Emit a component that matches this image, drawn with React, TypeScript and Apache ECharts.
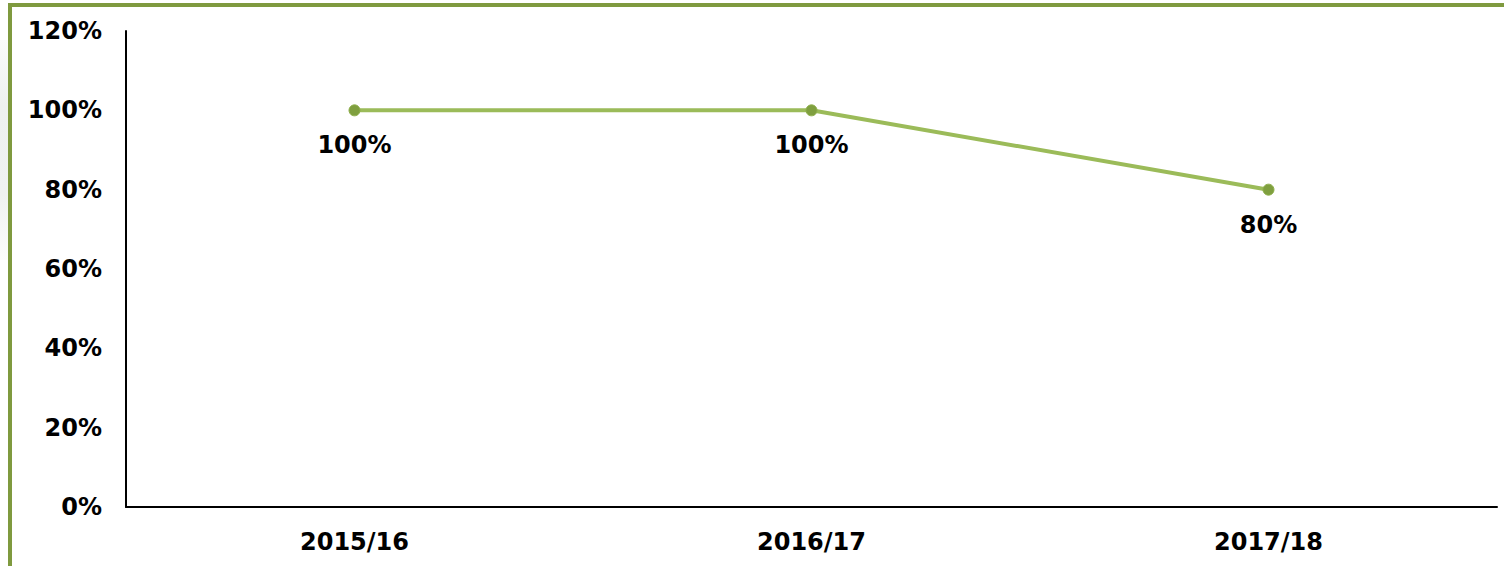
import React, { useEffect, useRef } from "react";
import * as echarts from "echarts";

const categories = ["2015/16", "2016/17", "2017/18"];
const values = [1.0, 1.0, 0.8];
const yTicks = [0, 0.2, 0.4, 0.6, 0.8, 1.0, 1.2];

const FONT = "DejaVu Sans";
const FS = 24;

export default function App() {
  const ref = useRef<HTMLDivElement>(null);
  useEffect(() => {
    if (!ref.current) return;
    const chart = echarts.init(ref.current, undefined, { renderer: "svg" });
    chart.setOption({
      animation: false,
      backgroundColor: "#ffffff",
      grid: { left: 126, right: 7, top: 31, bottom: 59, containLabel: false },
      xAxis: {
        type: "category",
        data: categories,
        boundaryGap: true,
        axisLine: { lineStyle: { color: "#000000", width: 2 } },
        axisTick: { show: false },
        axisLabel: {
          color: "#000000",
          fontFamily: FONT,
          fontWeight: "bold",
          fontSize: FS,
          margin: 23,
        },
      },
      yAxis: {
        type: "value",
        min: yTicks[0],
        max: yTicks[yTicks.length - 1],
        interval: 0.2,
        axisLine: { show: true, lineStyle: { color: "#000000", width: 2 } },
        axisTick: { show: false },
        splitLine: { show: false },
        axisLabel: {
          color: "#000000",
          fontFamily: FONT,
          fontWeight: "bold",
          fontSize: FS,
          margin: 24,
          formatter: (v: number) => Math.round(v * 100) + "%",
        },
      },
      series: [
        {
          type: "line",
          data: values,
          symbol: "circle",
          symbolSize: 11,
          lineStyle: { color: "#9bbb59", width: 4 },
          itemStyle: { color: "#7f9f3f", borderColor: "#8fb04c", borderWidth: 1 },
          label: {
            show: true,
            position: "bottom",
            distance: 17,
            color: "#000000",
            fontFamily: FONT,
            fontWeight: "bold",
            fontSize: FS,
            formatter: (p: any) => Math.round(p.value * 100) + "%",
          },
        },
      ],
      graphic: [
        {
          type: "rect",
          shape: { x: 0, y: 40, width: 8, height: 220 },
          style: {
            fill: new echarts.graphic.LinearGradient(0, 0, 0, 1, [
              { offset: 0, color: "#fafafa" },
              { offset: 0.3, color: "#eef1f0" },
              { offset: 0.7, color: "#f0f2f1" },
              { offset: 1, color: "#fcfcfc" },
            ]),
          },
          silent: true,
        },
        {
          type: "rect",
          shape: { x: 8, y: 3, width: 1496, height: 4 },
          style: { fill: "#7f9a3f" },
          silent: true,
        },
        {
          type: "rect",
          shape: { x: 8, y: 3, width: 4, height: 563 },
          style: { fill: "#7f9a3f" },
          silent: true,
        },
      ],
    });
    return () => chart.dispose();
  }, []);
  return (
    <div
      ref={ref}
      style={{ position: "fixed", left: 0, top: 0, width: 1504, height: 566 }}
    />
  );
}
